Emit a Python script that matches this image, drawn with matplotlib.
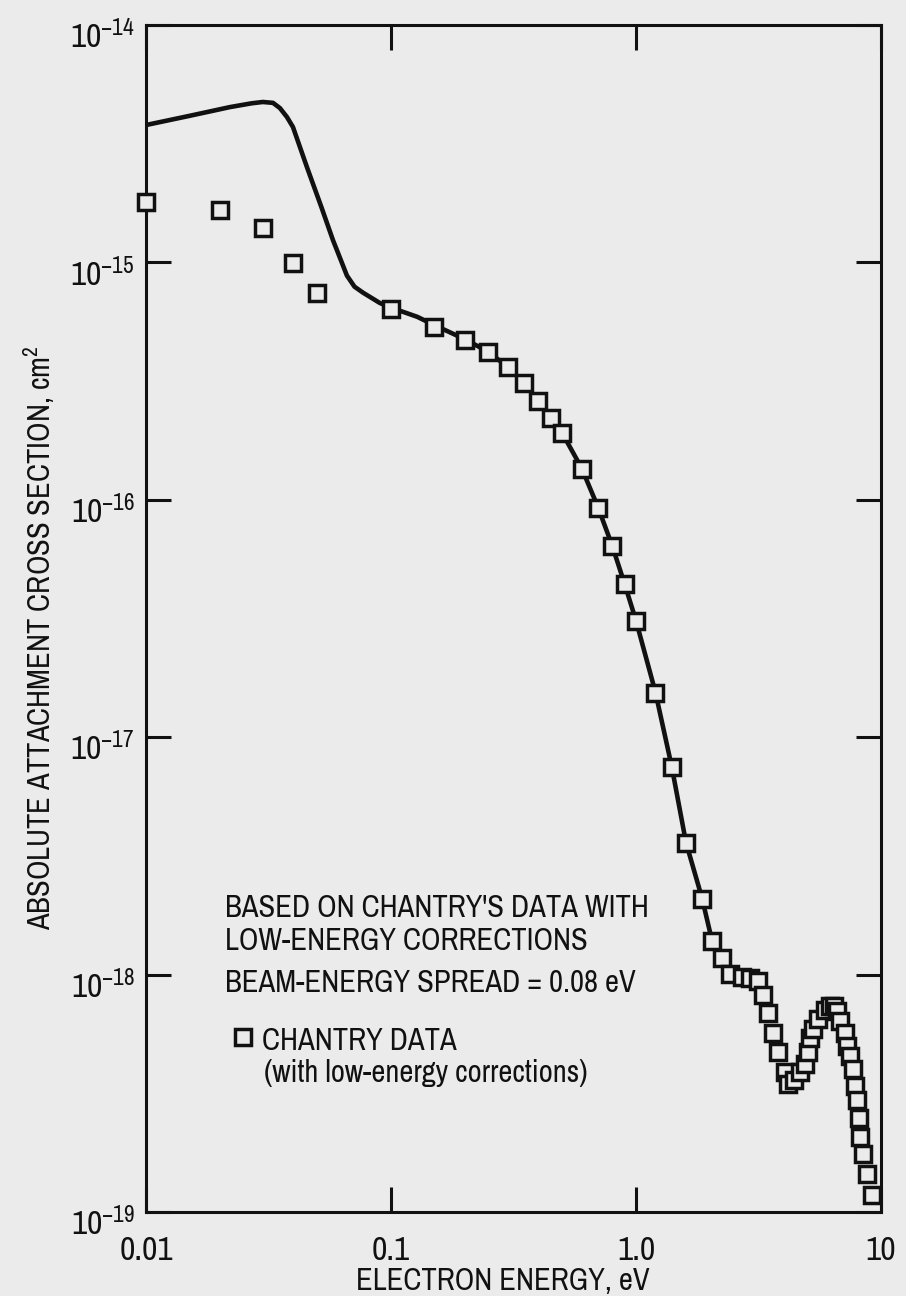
import matplotlib
matplotlib.use("Agg")
import matplotlib.pyplot as plt
from matplotlib import font_manager as fm
from matplotlib.transforms import ScaledTranslation
from matplotlib.ticker import FixedLocator, NullLocator, LogFormatterMathtext

# fitted cross section curve (eV, cm^2)
curve_e = [0.010, 0.015, 0.022, 0.027, 0.030, 0.033, 0.0352, 0.0376, 0.0398,
           0.0454, 0.052, 0.058, 0.0625, 0.0661, 0.071, 0.077, 0.090, 0.100, 0.128,
           0.150, 0.200, 0.250, 0.300, 0.350, 0.400, 0.450, 0.500, 0.600, 0.700,
           0.800, 0.900, 1.00, 1.20, 1.40, 1.60, 1.86, 2.04, 2.24, 2.42]
curve_s = [3.79e-15, 4.14e-15, 4.51e-15, 4.68e-15, 4.74e-15, 4.70e-15, 4.47e-15, 4.10e-15, 3.72e-15,
           2.52e-15, 1.71e-15, 1.24e-15, 1.02e-15, 8.8e-16, 7.9e-16, 7.45e-16, 6.75e-16, 6.45e-16, 5.9e-16,
           5.45e-16, 4.75e-16, 4.2e-16, 3.62e-16, 3.1e-16, 2.6e-16, 2.22e-16, 1.91e-16, 1.36e-16, 9.3e-17,
           6.4e-17, 4.4e-17, 3.1e-17, 1.55e-17, 7.5e-18, 3.6e-18, 2.1e-18, 1.4e-18, 1.17e-18, 1.02e-18]

# Chantry data points
chantry_e = [0.01, 0.02, 0.03, 0.04, 0.05,
             0.10, 0.15, 0.20, 0.25, 0.30, 0.35, 0.40, 0.45, 0.50,
             0.60, 0.70, 0.80, 0.90, 1.0,
             1.2, 1.4, 1.6, 1.86, 2.04, 2.24, 2.42,
             2.71, 2.92, 3.15, 3.30, 3.46, 3.62, 3.80, 4.06, 4.17, 4.40,
             4.67, 4.90, 5.04, 5.13, 5.28, 5.53, 5.90, 6.19, 6.40, 6.61,
             6.80, 7.13, 7.26, 7.47, 7.69, 7.83, 7.98, 8.10, 8.21, 8.45,
             8.77, 9.19]
chantry_s = [1.80e-15, 1.66e-15, 1.40e-15, 9.9e-16, 7.4e-16,
             6.35e-16, 5.33e-16, 4.71e-16, 4.19e-16, 3.62e-16, 3.10e-16, 2.60e-16, 2.21e-16, 1.91e-16,
             1.35e-16, 9.2e-17, 6.37e-17, 4.41e-17, 3.08e-17,
             1.53e-17, 7.47e-18, 3.57e-18, 2.09e-18, 1.39e-18, 1.17e-18, 1.01e-18,
             0.98e-18, 0.97e-18, 0.94e-18, 0.82e-18, 0.69e-18, 0.57e-18, 0.47e-18, 0.39e-18, 0.345e-18, 0.36e-18,
             0.39e-18, 0.42e-18, 0.47e-18, 0.54e-18, 0.59e-18, 0.65e-18, 0.71e-18, 0.74e-18, 0.74e-18, 0.70e-18,
             0.64e-18, 0.57e-18, 0.50e-18, 0.455e-18, 0.40e-18, 0.34e-18, 0.295e-18, 0.25e-18, 0.207e-18, 0.175e-18,
             0.144e-18, 0.118e-18]

x_ticks = [0.01, 0.1, 1.0, 10]
x_ticklabels = ['0.01', '0.1', '1.0', '10']
y_ticks = [1e-19, 1e-18, 1e-17, 1e-16, 1e-15, 1e-14]

notes = ["BASED ON CHANTRY'S DATA WITH",
         "LOW-ENERGY CORRECTIONS",
         "BEAM-ENERGY SPREAD = 0.08 eV"]

bg = '#ebebeb'
ink = '#111111'

# look for a narrow sans face, the scan uses a condensed grotesque
narrow = [f for f in fm.fontManager.ttflist
          if f.style == 'normal' and f.weight in (400, 'normal', 'regular')
          and (f.stretch in ('condensed', 'semi-condensed', 'extra-condensed')
               or 'Narrow' in f.name or 'Condensed' in f.name)]
narrow.sort(key=lambda f: (0 if 'Narrow' in f.name else 1 if 'Condensed' in f.name else 2))
if narrow:
    family, stretch, scale = narrow[0].name, narrow[0].stretch, 1.0
else:
    family, stretch, scale = 'DejaVu Sans', 'normal', 0.82

plt.rcParams['font.family'] = [family, 'DejaVu Sans']
plt.rcParams['font.stretch'] = stretch
plt.rcParams['text.color'] = ink

fs_tick = 24 * scale
fs_text = 22 * scale

fig = plt.figure(figsize=(9.06, 12.96), dpi=100, facecolor=bg)
ax = fig.add_axes([0.1611, 0.0648, 0.8113, 0.9159])
ax.set_facecolor(bg)

ax.plot(curve_e, curve_s, color=ink, lw=3.3, solid_joinstyle='round',
        solid_capstyle='round', zorder=2)
ax.plot(chantry_e, chantry_s, ls='none', marker='s', ms=11, mew=2.5,
        mec=ink, mfc=bg, zorder=3, clip_on=False)

ax.set_xscale('log')
ax.set_yscale('log')
ax.set_xlim(0.01, 10)
ax.set_ylim(1e-19, 1e-14)

ax.xaxis.set_major_locator(FixedLocator(x_ticks))
ax.xaxis.set_minor_locator(NullLocator())
ax.set_xticklabels(x_ticklabels)
ax.yaxis.set_major_locator(FixedLocator(y_ticks))
ax.yaxis.set_minor_locator(NullLocator())
ax.yaxis.set_major_formatter(LogFormatterMathtext())

for sp in ax.spines.values():
    sp.set_linewidth(2.2)
    sp.set_color(ink)

ax.tick_params(axis='both', which='major', direction='in', length=18, width=2.2,
               top=True, right=True, colors=ink, labelsize=fs_tick)
ax.tick_params(axis='x', pad=17)
ax.tick_params(axis='y', pad=8)

# the scan sets the exponent labels a little below their ticks
shift = ScaledTranslation(0, -9 / 100, fig.dpi_scale_trans)
for lab in ax.get_yticklabels():
    lab.set_transform(lab.get_transform() + shift)

fig.text(0.555, 0.0046, 'ELECTRON ENERGY, eV', fontsize=fs_text, ha='center', va='baseline')
fig.text(0.043, 0.5077, r'ABSOLUTE ATTACHMENT CROSS SECTION, cm$^{\mathdefault{2}}$',
         fontsize=fs_text, rotation=90, ha='center', va='center')

baselines = [917, 950, 992]
for line, yb in zip(notes, baselines):
    fig.text(225 / 906, 1 - yb / 1296, line, fontsize=fs_text, ha='left', va='baseline')

ax.plot([243 / 906], [1 - 1037 / 1296], transform=fig.transFigure, marker='s',
        ms=11, mew=2.5, mec=ink, mfc=bg, ls='none', clip_on=False)
fig.text(262 / 906, 1 - 1050 / 1296, 'CHANTRY DATA', fontsize=fs_text, ha='left', va='baseline')
fig.text(264 / 906, 1 - 1082 / 1296, '(with low-energy corrections)', fontsize=fs_text,
         ha='left', va='baseline')

fig.savefig('out.png', dpi=100, facecolor=bg)
